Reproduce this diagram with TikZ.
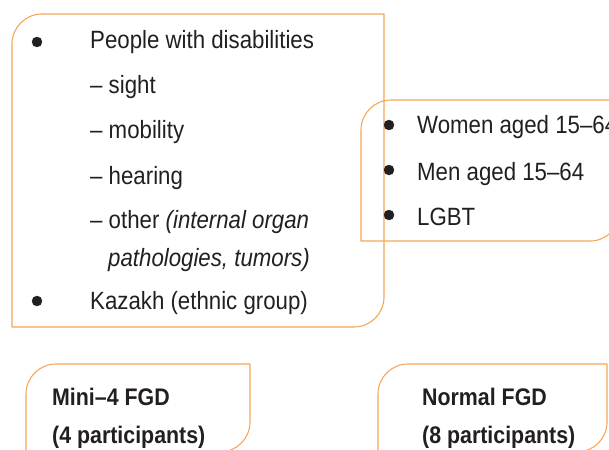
\documentclass[tikz,border=0pt]{standalone}
\usepackage{fontspec}
\setmainfont[FakeStretch=0.89]{Liberation Sans}
\usepackage{tikz}
\usetikzlibrary{calc}
\usepackage{xcolor}
\definecolor{boxorange}{RGB}{246,165,90}
\definecolor{inkgray}{RGB}{35,31,32}

\begin{document}
\begin{tikzpicture}[line cap=round, line join=round, x=1pt, y=1pt,
	boxline/.style={draw=boxorange, line width=1.1pt},
	txt/.style={anchor=base west, inner sep=0pt, text=inkgray, font=\fontsize{25}{30}\selectfont},
	head/.style={anchor=base west, inner sep=0pt, text=inkgray, font=\fontsize{24}{30}\selectfont\bfseries}]
	% page frame
	\useasboundingbox (0,0) rectangle (609,-449);
	\clip (0,0) rectangle (609,-449);

	% frames, rounded at top left and bottom right
	\draw[boxline] (12,-327) -- (12,-44) arc[start angle=180, end angle=90, radius=30] -- (384,-14) -- (384,-297) arc[start angle=0, end angle=-90, radius=30] -- cycle;
	\draw[boxline] (361,-241) -- (361,-130) arc[start angle=180, end angle=90, radius=30] -- (620,-100) -- (620,-211) arc[start angle=0, end angle=-90, radius=30] -- cycle;
	\draw[boxline] (26,-452) -- (26,-394) arc[start angle=180, end angle=90, radius=30] -- (250,-364) -- (250,-422) arc[start angle=0, end angle=-90, radius=30] -- cycle;
	\draw[boxline] (378,-452) -- (378,-394) arc[start angle=180, end angle=90, radius=30] -- (607,-364) -- (607,-422) arc[start angle=0, end angle=-90, radius=30] -- cycle;

	% groups with disabilities
	\filldraw [inkgray] (37,-42) circle (5pt);
	\node[txt] (people) at (90,-49) {People with disabilities};
	\node[txt] (sight) at (90,-94) {-- sight};
	\node[txt] (mobility) at (90,-139) {-- mobility};
	\node[txt] (hearing) at (90,-184) {-- hearing};
	\node[txt] (other) at (90,-228) {-- other \textit{(internal organ}};
	\node[txt] (patho) at (108,-266) {\textit{pathologies, tumors)}};
	\filldraw [inkgray] (37,-301) circle (5pt);
	\node[txt] (kazakh) at (90,-309) {Kazakh (ethnic group)};

	% general population
	\filldraw [inkgray] (389,-125) circle (5pt);
	\node[txt] (women) at (417,-134) {Women aged 15--64};
	\filldraw [inkgray] (389,-170) circle (5pt);
	\node[txt] (men) at (417,-180) {Men aged 15--64};
	\filldraw [inkgray] (389,-215) circle (5pt);
	\node[txt] (lgbt) at (417,-225) {LGBT};

	% group sizes
	\node[head] (mini) at (52,-405) {Mini--4 FGD};
	\node[head] (minin) at (52,-443) {(4 participants)};
	\node[head] (normal) at (422,-405) {Normal FGD};
	\node[head] (normaln) at (422,-443) {(8 participants)};
\end{tikzpicture}
\end{document}
